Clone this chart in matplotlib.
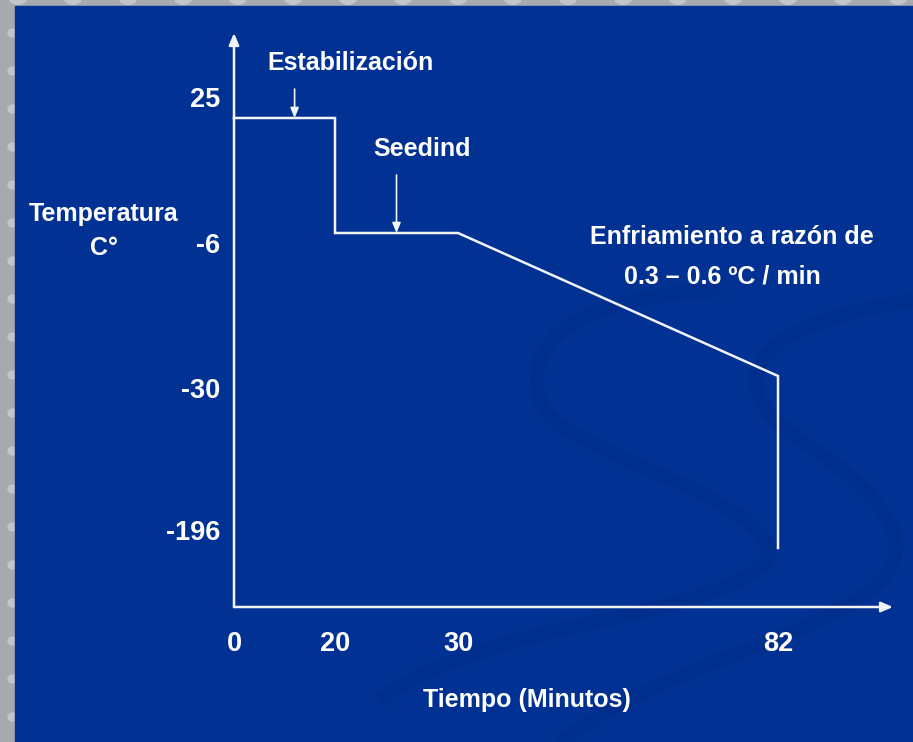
import numpy as np
import matplotlib
matplotlib.use('Agg')
import matplotlib.pyplot as plt
from matplotlib.patches import Rectangle, Circle, PathPatch
from matplotlib.path import Path
from matplotlib.transforms import ScaledTranslation

plt.rcParams['font.family'] = ['Liberation Sans Narrow', 'Liberation Sans', 'DejaVu Sans']
plt.rcParams['font.weight'] = 'bold'

# datos del proceso de congelación
tiempo = [0, 20, 20, 30, 82, 82]          # minutos
temperatura = [25, 25, -6, -6, -30, -196]  # °C
x_ticks = [0, 20, 30, 82]
y_ticks = [25, -6, -30, -196]
x_label = 'Tiempo (Minutos)'
y_label = 'Temperatura\nC°'

# escala esquemática (no lineal) del dibujo original, en píxeles
W, H = 913, 742
x_pix = [234, 335, 458, 778]
y_pix = [548, 376, 233, 118]   # para -196, -30, -6, 25

BLUE = '#013192'
SWIRL = '#002a84'
GRAY = '#a8a9ad'
WHITE = '#f2f4fa'


def piecewise(xs, ys):
    xs = np.asarray(xs, float)
    ys = np.asarray(ys, float)

    def f(v):
        v = np.asarray(v, float)
        out = np.interp(v, xs, ys)
        lo = v < xs[0]
        hi = v > xs[-1]
        s0 = (ys[1] - ys[0]) / (xs[1] - xs[0])
        s1 = (ys[-1] - ys[-2]) / (xs[-1] - xs[-2])
        out = np.where(lo, ys[0] + (v - xs[0]) * s0, out)
        out = np.where(hi, ys[-1] + (v - xs[-1]) * s1, out)
        return out
    return f


def px(p):
    return (p[0] / W, 1 - p[1] / H)


fx = piecewise(x_ticks, x_pix)
ix = piecewise(x_pix, x_ticks)
y_vals = sorted(y_ticks)
fy = piecewise(y_vals, [-p for p in y_pix])
iy = piecewise([-p for p in y_pix], y_vals)

fig = plt.figure(figsize=(W / 100, H / 100), dpi=100)
fig.patch.set_facecolor(GRAY)

# puntos decorativos del borde
for k in range(17):
    fig.add_artist(Circle(((18 + 55 * k) / W, 1 + 3 / H), 9 / W,
                          transform=fig.transFigure, color='#c4c5c9', zorder=-2))
for k in range(20):
    fig.add_artist(Circle((13 / W, 1 - (33 + 38 * k) / H), 5 / W,
                          transform=fig.transFigure, color='#c4c5c9', zorder=-2))
fig.add_artist(Rectangle((15 / W, 0), 1, 1 - 6 / H, transform=fig.transFigure,
                         color=BLUE, zorder=-1))

# "S" decorativa del fondo
swirls = [
    [(720, 290), (600, 295), (520, 330), (540, 400),
     (555, 450), (720, 480), (765, 540),
     (790, 575), (700, 600), (560, 630),
     (480, 648), (420, 670), (380, 700)],
    [(913, 300), (800, 318), (740, 350), (760, 400),
     (775, 440), (880, 470), (895, 540),
     (905, 590), (820, 622), (720, 660),
     (650, 688), (600, 712), (560, 742)],
]
for pts in swirls:
    codes = [Path.MOVETO] + [Path.CURVE4] * (len(pts) - 1)
    fig.add_artist(PathPatch(Path([px(p) for p in pts], codes),
                             transform=fig.transFigure, fill=False,
                             edgecolor=SWIRL, lw=10, alpha=0.35, zorder=-0.5))

ax_left, ax_right, ax_bottom, ax_top = 234, 893, 607, 33
ax = fig.add_axes([ax_left / W, 1 - ax_bottom / H, (ax_right - ax_left) / W,
                   (ax_bottom - ax_top) / H])
ax.set_zorder(2)
ax.set_facecolor('none')
ax.set_xscale('function', functions=(fx, ix))
ax.set_yscale('function', functions=(fy, iy))
ax.set_xlim(float(ix(ax_left)), float(ix(ax_right)))
ax.set_ylim(float(iy(-ax_bottom)), float(iy(-ax_top)))

ax.plot(tiempo, temperatura, color=WHITE, lw=1.8, solid_joinstyle='miter',
        clip_on=False)

for s in ax.spines.values():
    s.set_visible(False)
arrow = dict(arrowstyle='-|>,head_length=0.7,head_width=0.3', color=WHITE,
             lw=1.8, shrinkA=0, shrinkB=0)
ax.annotate('', xy=(0, 1), xytext=(0, 0), xycoords='axes fraction',
            arrowprops=arrow)
ax.annotate('', xy=(1, 0), xytext=(0, 0), xycoords='axes fraction',
            arrowprops=arrow)

ax.set_xticks(x_ticks)
ax.set_xticklabels([str(v) for v in x_ticks])
ax.set_yticks(y_ticks)
ax.set_yticklabels([str(v) for v in y_ticks])
ax.tick_params(length=0, colors='white', labelsize=19.5)
ax.tick_params(axis='x', pad=17)
ax.tick_params(axis='y', pad=10)

# desplazamiento de las etiquetas del eje y como en el original (px)
y_shift = [21, -10, -12, 18]
for lab, d in zip(ax.get_yticklabels(), y_shift):
    lab.set_transform(lab.get_transform() + ScaledTranslation(0, d / 100, fig.dpi_scale_trans))

fs = 18
fig.text(527 / W, 1 - 700 / H, x_label, color='white', fontsize=fs,
         ha='center', va='center')
fig.text(104 / W, 1 - 231 / H, y_label, color='white', fontsize=fs,
         ha='center', va='center', linespacing=1.55)

# anotaciones
small = dict(arrowstyle='-|>,head_length=0.6,head_width=0.25', color=WHITE,
             lw=1.2, shrinkA=0, shrinkB=0)
ax.annotate('', xy=(12, 25), xytext=(0, 29 * 0.72), textcoords='offset points',
            arrowprops=small)
ax.annotate('', xy=(25, -6), xytext=(0, 58 * 0.72), textcoords='offset points',
            arrowprops=small)
fig.text(350 / W, 1 - 63 / H, 'Estabilización', color='white', fontsize=fs,
         ha='center', va='center')
fig.text(422 / W, 1 - 149 / H, 'Seedind', color='white', fontsize=fs,
         ha='center', va='center')
fig.text(732 / W, 1 - 237 / H, 'Enfriamiento a razón de', color='white',
         fontsize=fs, ha='center', va='center')
fig.text(722 / W, 1 - 277 / H, '0.3 – 0.6 ºC / min', color='white',
         fontsize=fs, ha='center', va='center')

fig.savefig('out.png', dpi=100, facecolor=fig.get_facecolor())
